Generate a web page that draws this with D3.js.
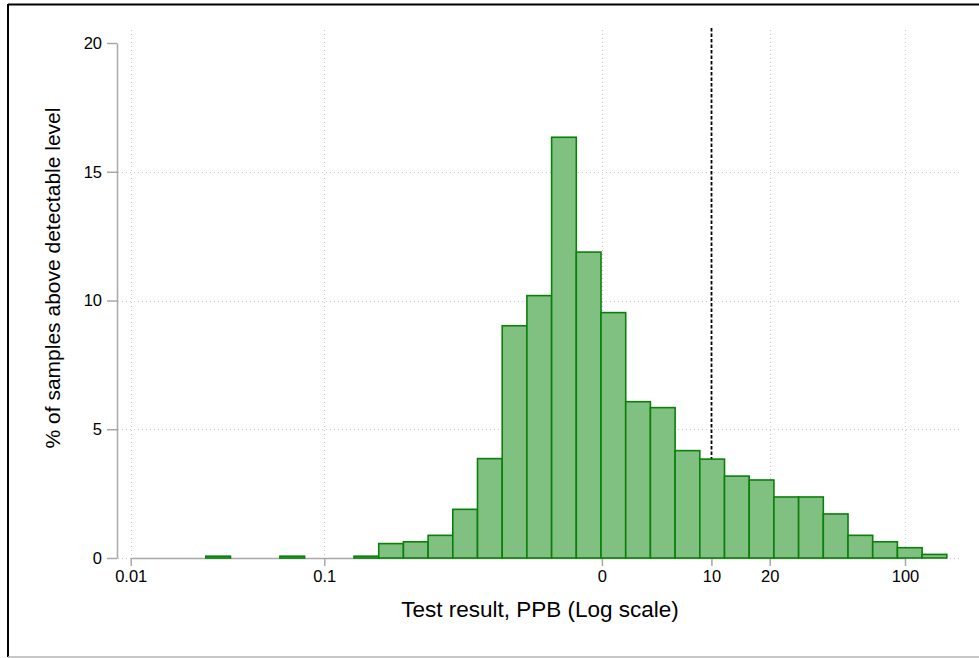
<!DOCTYPE html>
<html>
<head>
<meta charset="utf-8">
<script src="https://cdn.jsdelivr.net/npm/d3@7/dist/d3.min.js"></script>
<style>
  html, body { margin: 0; padding: 0; background: #fff; }
  svg { display: block; font-family: "Liberation Sans", Arial, Helvetica, sans-serif; }
</style>
</head>
<body>
<svg id="chart" width="979" height="658"></svg>
<script>
// Histogram bin edges (PPB, log-spaced) and bar heights (% of samples)
const binEdges = [0.02443, 0.03278, 0.04397, 0.05899, 0.07914, 0.10617, 0.14244, 0.19110,
  0.25635, 0.34392, 0.46132, 0.61888, 0.83022, 1.1137, 1.4942, 2.0045, 2.6893, 3.6075,
  4.8396, 6.4921, 8.7096, 11.684, 15.675, 21.028, 28.210, 37.844, 50.770, 68.108,
  91.37, 122.58, 164.44];
const binPercent = [0.07, 0, 0, 0.07, 0, 0, 0.07, 0.56, 0.63, 0.88, 1.89, 3.86, 9.02, 10.19,
  16.34, 11.88, 9.53, 6.07, 5.84, 4.17, 3.84, 3.18, 3.03, 2.37, 2.37, 1.71, 0.88, 0.63, 0.40, 0.14];

const xTickValues = [0.01, 0.1, 2.718, 10, 20, 100];
const xTickLabels = ["0.01", "0.1", "0", "10", "20", "100"];
const yTickValues = [0, 5, 10, 15, 20];
const yGridValues = [0, 5, 10, 15];
const referenceLevel = 10;

const xTitle = "Test result, PPB (Log scale)";
const yTitle = "% of samples above detectable level";

const bins = binPercent.map((v, i) => ({ x0: binEdges[i], x1: binEdges[i + 1], value: v }));

const svg = d3.select("#chart");

// frame
svg.append("line").attr("x1", 8).attr("x2", 979).attr("y1", 4.5).attr("y2", 4.5)
  .attr("stroke", "#000").attr("stroke-width", 2);
svg.append("line").attr("x1", 8).attr("x2", 8).attr("y1", 4).attr("y2", 657)
  .attr("stroke", "#000").attr("stroke-width", 2);
svg.append("line").attr("x1", 8).attr("x2", 979).attr("y1", 657).attr("y2", 657)
  .attr("stroke", "#b4b4b4").attr("stroke-width", 1.5);

const x = d3.scaleLog().domain([0.01, 100]).range([130.7, 905]);
const y = d3.scaleLinear().domain([0, 20]).range([558, 43]);

const plotLeft = 118, plotRight = 962, plotTop = 30, plotBottom = 558;

// grid
const grid = svg.append("g").attr("stroke", "#c8c8c8").attr("stroke-width", 1)
  .attr("stroke-dasharray", "1,3");
grid.selectAll("line.h").data(yGridValues).join("line")
  .attr("class", "h")
  .attr("x1", plotLeft).attr("x2", plotRight)
  .attr("y1", d => Math.round(y(d)) + 0.5).attr("y2", d => Math.round(y(d)) + 0.5);
grid.selectAll("line.v").data(xTickValues.filter(v => v !== referenceLevel)).join("line")
  .attr("class", "v")
  .attr("x1", d => Math.round(x(d)) + 0.5).attr("x2", d => Math.round(x(d)) + 0.5)
  .attr("y1", plotTop).attr("y2", plotBottom);

// reference line
svg.append("line")
  .attr("x1", Math.round(x(referenceLevel)) + 0.5).attr("x2", Math.round(x(referenceLevel)) + 0.5)
  .attr("y1", 28).attr("y2", plotBottom)
  .attr("stroke", "#000").attr("stroke-width", 1.8).attr("stroke-dasharray", "3.5,2");

// axes
const xAxis = d3.axisBottom(x).tickValues(xTickValues)
  .tickFormat((d, i) => xTickLabels[i]).tickSize(8).tickSizeOuter(0).tickPadding(4);
const gx = svg.append("g").attr("transform", `translate(0,${plotBottom})`).call(xAxis);
gx.select(".domain").attr("stroke", "#a8a8a8").attr("stroke-width", 1.5);
gx.selectAll(".tick line").attr("stroke", "#a8a8a8").attr("stroke-width", 1.5);
gx.selectAll(".tick text").attr("font-size", "16.5px").attr("fill", "#000")
  .attr("font-family", "'Liberation Sans', Arial, sans-serif");

// bars (drawn over the reference line)
svg.append("g").selectAll("rect").data(bins.filter(b => b.value > 0)).join("rect")
  .attr("x", d => x(d.x0))
  .attr("width", d => x(d.x1) - x(d.x0))
  .attr("y", d => y(d.value))
  .attr("height", d => y(0) - y(d.value))
  .attr("fill", "#80c080")
  .attr("stroke", "#0a800a")
  .attr("stroke-width", 1.6);

const yAxis = d3.axisLeft(y).tickValues(yTickValues).tickSize(10).tickSizeOuter(0).tickPadding(5);
const gy = svg.append("g").attr("transform", "translate(117,0)").call(yAxis);
gy.select(".domain").attr("stroke", "#a8a8a8").attr("stroke-width", 1.5);
gy.selectAll(".tick line").attr("stroke", "#a8a8a8").attr("stroke-width", 1.5);
gy.selectAll(".tick text").attr("font-size", "16.5px").attr("fill", "#000")
  .attr("font-family", "'Liberation Sans', Arial, sans-serif");

// titles
svg.append("text").attr("x", 540).attr("y", 617).attr("text-anchor", "middle")
  .attr("font-size", "22.5px").attr("fill", "#000").text(xTitle);
svg.append("text").attr("transform", "translate(60,278) rotate(-90)")
  .attr("text-anchor", "middle").attr("font-size", "21px").attr("fill", "#000").text(yTitle);
</script>
</body>
</html>
